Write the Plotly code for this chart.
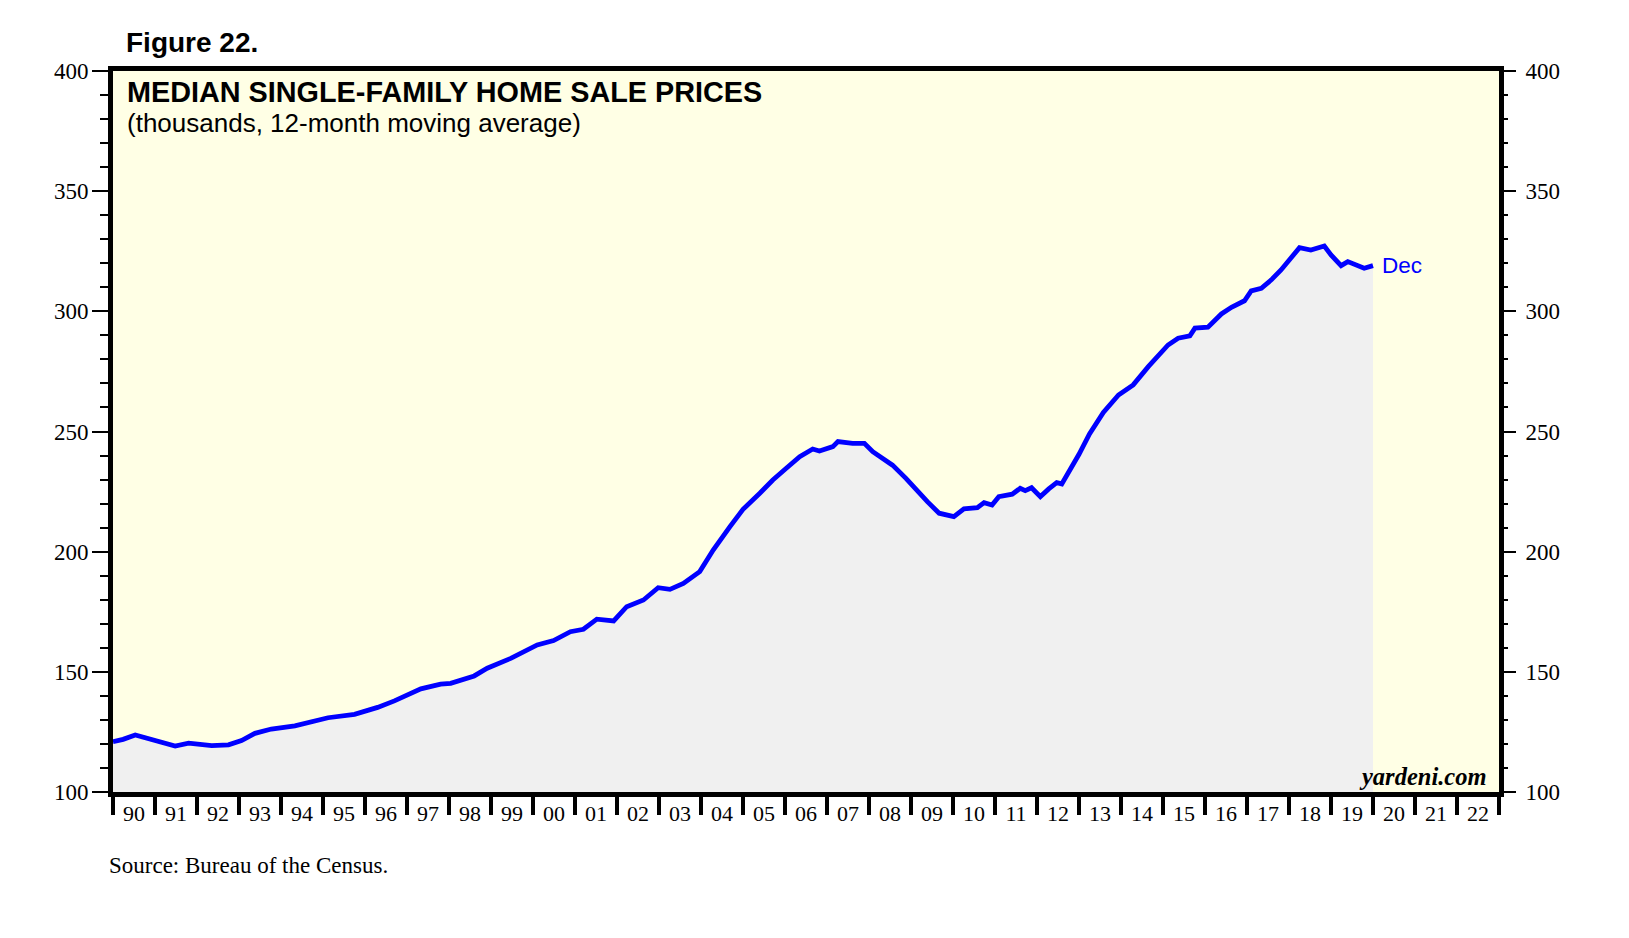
import plotly.graph_objects as go

# Decimal-year positions and 12-month moving-average median prices (thousands $)
years = [
    1990.00, 1990.24, 1990.53, 1990.85, 1991.16, 1991.48, 1991.80, 1992.35, 1992.75,
    1993.06, 1993.38, 1993.77, 1994.33, 1995.12, 1995.75, 1996.30, 1996.70, 1997.33,
    1997.80, 1998.04, 1998.60, 1998.91, 1999.47, 1999.94, 2000.10, 2000.49, 2000.89,
    2001.20, 2001.52, 2001.92, 2002.23, 2002.63, 2002.98, 2003.26, 2003.58, 2003.97,
    2004.29, 2004.69, 2005.00, 2005.40, 2005.71, 2006.03, 2006.35, 2006.66, 2006.82,
    2007.14, 2007.26, 2007.61, 2007.89, 2008.09, 2008.40, 2008.56, 2008.88, 2009.19,
    2009.39, 2009.67, 2010.02, 2010.26, 2010.58, 2010.74, 2010.93, 2011.09, 2011.41,
    2011.60, 2011.72, 2011.87, 2012.08, 2012.28, 2012.47, 2012.59, 2012.83, 2013.00,
    2013.25, 2013.58, 2013.94, 2014.29, 2014.65, 2015.12, 2015.36, 2015.64, 2015.76,
    2016.07, 2016.39, 2016.63, 2016.94, 2017.10, 2017.34, 2017.58, 2017.81, 2018.05,
    2018.25, 2018.52, 2018.84, 2019.00, 2019.24, 2019.40, 2019.64, 2019.79, 2020.00,
]
prices = [
    120.9, 121.9, 123.7, 122.3, 120.9, 119.1, 120.3, 119.3, 119.6,
    121.4, 124.4, 126.2, 127.5, 130.9, 132.3, 135.2, 137.9, 142.9,
    144.9, 145.2, 148.3, 151.5, 155.6, 159.8, 161.2, 163.0, 166.7,
    167.7, 171.9, 171.2, 177.1, 179.9, 185.0, 184.3, 186.8, 191.7,
    200.7, 210.4, 217.6, 224.3, 229.8, 234.7, 239.5, 242.7, 241.9,
    243.7, 245.8, 245.1, 245.1, 241.6, 237.9, 236.0, 230.5, 224.3,
    220.8, 216.0, 214.6, 217.8, 218.3, 220.4, 219.4, 222.9, 223.9,
    226.4, 225.4, 226.6, 222.9, 226.1, 228.7, 228.2, 235.4, 240.5,
    249.0, 257.9, 265.2, 269.4, 277.0, 286.0, 288.8, 289.8, 293.0,
    293.4, 298.9, 301.7, 304.4, 308.5, 309.6, 313.1, 317.2, 322.3,
    326.5, 325.5, 327.2, 323.5, 319.0, 320.7, 319.3, 317.9, 319.0,
]

year_labels = ["90", "91", "92", "93", "94", "95", "96", "97", "98", "99",
               "00", "01", "02", "03", "04", "05", "06", "07", "08", "09",
               "10", "11", "12", "13", "14", "15", "16", "17", "18", "19",
               "20", "21", "22"]
first_year = 1990
y_ticks = [100, 150, 200, 250, 300, 350, 400]

label_pos = [first_year + i + 0.5 for i in range(len(year_labels))]
year_bounds = [first_year + i for i in range(len(year_labels) + 1)]

BLUE = "#0000FF"
SERIF = "Liberation Serif, Times New Roman, serif"
SANS = "Liberation Sans, Arial, sans-serif"

fig = go.Figure()
fig.add_trace(go.Scatter(
    x=years, y=prices, mode="lines",
    line=dict(color=BLUE, width=4.8),
    fill="tozeroy", fillcolor="#F0F0F0",
    hoverinfo="skip", showlegend=False,
))
# empty trace so that the right-hand axis is drawn
fig.add_trace(go.Scatter(x=[], y=[], yaxis="y2", showlegend=False, hoverinfo="skip"))

fig.update_layout(
    width=1629, height=938,
    margin=dict(l=105, r=138, t=63, b=154),
    paper_bgcolor="white",
    plot_bgcolor="#FFFFE5",
    xaxis=dict(
        range=[first_year, first_year + len(year_labels)],
        tickmode="array", tickvals=label_pos, ticktext=year_labels,
        ticks="outside", ticklen=9, tickcolor="rgba(0,0,0,0)",
        ticklabelstandoff=-11,
        tickfont=dict(family=SERIF, size=22, color="black"),
        showgrid=False, zeroline=False,
        showline=True, linewidth=5, linecolor="black", mirror=True,
        minor=dict(tickmode="array", tickvals=year_bounds, ticks="outside",
                   ticklen=18, tickwidth=4, tickcolor="black", showgrid=False),
    ),
    yaxis=dict(
        range=[100, 400], tickmode="array", tickvals=y_ticks,
        ticks="outside", ticklen=16, tickwidth=1.5, tickcolor="black",
        ticklabelstandoff=-1,
        tickfont=dict(family=SERIF, size=23, color="black"),
        showgrid=False, zeroline=False,
        showline=True, linewidth=5, linecolor="black", mirror=True,
        minor=dict(dtick=10, tick0=100, ticks="outside", ticklen=8, tickwidth=1.5,
                   tickcolor="black", showgrid=False),
    ),
    yaxis2=dict(
        range=[100, 400], overlaying="y", side="right", anchor="x",
        tickmode="array", tickvals=y_ticks,
        ticks="outside", ticklen=16, tickwidth=1.5, tickcolor="black",
        ticklabelstandoff=5,
        tickfont=dict(family=SERIF, size=23, color="black"),
        showgrid=False, zeroline=False, showline=False,
        minor=dict(dtick=10, tick0=100, ticks="outside", ticklen=8, tickwidth=1.5,
                   tickcolor="black", showgrid=False),
    ),
    annotations=[
        dict(text="<b>Figure 22.</b>", xref="paper", yref="paper",
             x=0.008, y=1.040, xanchor="left", yanchor="middle", showarrow=False,
             font=dict(family=SANS, size=28, color="black")),
        dict(text="<b>MEDIAN SINGLE-FAMILY HOME SALE PRICES</b>", xref="paper", yref="paper",
             x=0.009, y=0.971, xanchor="left", yanchor="middle", showarrow=False,
             font=dict(family=SANS, size=28.8, color="black")),
        dict(text="(thousands, 12-month moving average)", xref="paper", yref="paper",
             x=0.009, y=0.928, xanchor="left", yanchor="middle", showarrow=False,
             font=dict(family=SANS, size=26, color="black")),
        dict(text="Dec", x=years[-1], y=prices[-1], xref="x", yref="y",
             xanchor="left", yanchor="middle", xshift=7, showarrow=False,
             font=dict(family=SANS, size=22.5, color=BLUE)),
        dict(text="<b><i>yardeni.com</i></b>", xref="paper", yref="paper",
             x=0.9925, y=0.022, xanchor="right", yanchor="middle", showarrow=False,
             font=dict(family=SERIF, size=24.5, color="black")),
        dict(text="Source: Bureau of the Census.", xref="paper", yref="paper",
             x=-0.004, y=-0.102, xanchor="left", yanchor="middle", showarrow=False,
             font=dict(family=SERIF, size=23, color="black")),
    ],
)

fig.write_html("out.html")
